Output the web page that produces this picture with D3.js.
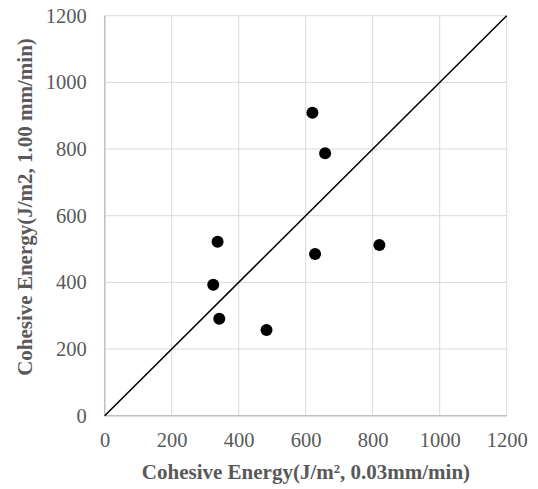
<!DOCTYPE html>
<html>
<head>
<meta charset="utf-8">
<script src="https://cdn.jsdelivr.net/npm/d3@7"></script>
<style>
  body { margin: 0; background: #fff; }
  text { font-family: "Liberation Serif", "Times New Roman", serif; }
</style>
</head>
<body>
<svg id="chart" width="538" height="489"></svg>
<script>
// data
var slowRate = [620, 658, 337, 324, 342, 483, 628, 820];   // 0.03 mm/min
var fastRate = [909, 787, 522, 393, 291, 257, 485, 512];   // 1.00 mm/min
var tickValues = [0, 200, 400, 600, 800, 1000, 1200];
var diagonal = [[0, 0], [1200, 1200]];

var svg = d3.select("#chart");
var plotL = 104.7, plotR = 506.7, plotT = 15.7, plotB = 415.7;

var x = d3.scaleLinear().domain([0, 1200]).range([plotL, plotR]);
var y = d3.scaleLinear().domain([0, 1200]).range([plotB, plotT]);

// grid
svg.append("g").selectAll("line").data(tickValues).enter().append("line")
    .attr("x1", function(d){ return x(d); }).attr("x2", function(d){ return x(d); })
    .attr("y1", plotT).attr("y2", plotB)
    .style("stroke", "#d9d9d9").style("stroke-width", 1);
svg.append("g").selectAll("line").data(tickValues).enter().append("line")
    .attr("y1", function(d){ return y(d); }).attr("y2", function(d){ return y(d); })
    .attr("x1", plotL).attr("x2", plotR)
    .style("stroke", "#d9d9d9").style("stroke-width", 1);

// axis lines
svg.append("line").attr("x1", plotL).attr("x2", plotR).attr("y1", plotB).attr("y2", plotB)
    .style("stroke", "#bfbfbf").style("stroke-width", 1.5);
svg.append("line").attr("x1", plotL).attr("x2", plotL).attr("y1", plotT).attr("y2", plotB)
    .style("stroke", "#bfbfbf").style("stroke-width", 1.5);

// tick labels
var xAxis = svg.append("g").attr("transform", "translate(0," + plotB + ")")
    .call(d3.axisBottom(x).tickValues(tickValues).tickFormat(d3.format("d")).tickSize(0).tickPadding(17));
var yAxis = svg.append("g").attr("transform", "translate(" + plotL + ",0)")
    .call(d3.axisLeft(y).tickValues(tickValues).tickFormat(d3.format("d")).tickSize(0).tickPadding(18));
[xAxis, yAxis].forEach(function(a){
    a.select(".domain").remove();
    a.selectAll("text").style("font-size", "20.5px").style("fill", "#595959")
        .style("font-family", "Liberation Serif, serif");
});

// y = x line
svg.append("path").datum(diagonal)
    .attr("d", d3.line().x(function(d){ return x(d[0]); }).y(function(d){ return y(d[1]); }))
    .style("stroke", "#000").style("stroke-width", 1.5).style("fill", "none");

// points
svg.append("g").selectAll("circle").data(slowRate).enter().append("circle")
    .attr("cx", function(d){ return x(d); })
    .attr("cy", function(d, i){ return y(fastRate[i]); })
    .attr("r", 6)
    .style("fill", "#000");

// axis titles
svg.append("text").attr("x", 306).attr("y", 479)
    .attr("text-anchor", "middle")
    .style("font-size", "21px").style("font-weight", "bold").style("fill", "#595959")
    .text("Cohesive Energy(J/m², 0.03mm/min)");
svg.append("text")
    .attr("transform", "translate(32,207) rotate(-90)")
    .attr("text-anchor", "middle")
    .style("font-size", "21px").style("font-weight", "bold").style("fill", "#595959")
    .text("Cohesive Energy(J/m2, 1.00 mm/min)");
</script>
</body>
</html>
